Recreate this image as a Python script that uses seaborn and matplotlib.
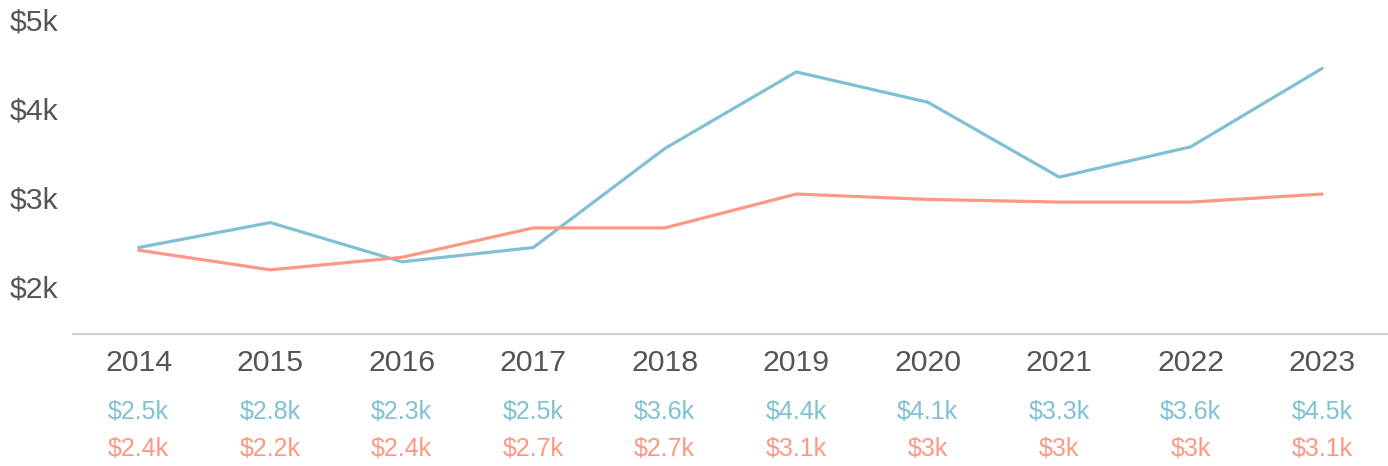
import matplotlib
matplotlib.use("Agg")
import matplotlib.pyplot as plt
import seaborn as sns
import pandas as pd

years = [2014, 2015, 2016, 2017, 2018, 2019, 2020, 2021, 2022, 2023]
series_a = [2.47, 2.75, 2.31, 2.47, 3.58, 4.44, 4.10, 3.26, 3.60, 4.48]
series_b = [2.44, 2.22, 2.36, 2.69, 2.69, 3.07, 3.01, 2.98, 2.98, 3.07]
labels_a = ["$2.5k", "$2.8k", "$2.3k", "$2.5k", "$3.6k", "$4.4k", "$4.1k", "$3.3k", "$3.6k", "$4.5k"]
labels_b = ["$2.4k", "$2.2k", "$2.4k", "$2.7k", "$2.7k", "$3.1k", "$3k", "$3k", "$3k", "$3.1k"]
y_ticks = [2, 3, 4, 5]
y_tick_labels = ["$2k", "$3k", "$4k", "$5k"]

color_a = "#7fc1d3"
color_b = "#ff9882"
text_gray = "#555555"

df = pd.DataFrame({
    "year": years * 2,
    "value": series_a + series_b,
    "series": ["A"] * len(years) + ["B"] * len(years),
})

sns.set_theme(style="white")
plt.rcParams["font.family"] = ["Liberation Sans", "DejaVu Sans"]

fig = plt.figure(figsize=(13.88, 4.66), dpi=100)
W, H = 1388, 466
ax = fig.add_axes([73 / W, (H - 334) / H, (1388 - 73) / W, 312 / H])

sns.lineplot(data=df, x="year", y="value", hue="series",
             palette={"A": color_a, "B": color_b}, linewidth=2.3,
             legend=False, ax=ax)

ax.set_xlim(2013.5, 2023.5)
ax.set_ylim(1.5, 5.0)
ax.set_xlabel("")
ax.set_ylabel("")

for s in ["top", "right", "left"]:
    ax.spines[s].set_visible(False)
ax.spines["bottom"].set_color("#d3d3d3")
ax.spines["bottom"].set_linewidth(1.5)

ax.set_xticks(years)
ax.set_xticklabels([str(y) for y in years], fontsize=21.8, color=text_gray)
ax.tick_params(axis="x", length=0, pad=11)

ax.set_yticks(y_ticks)
ax.set_yticklabels([])
ax.tick_params(axis="y", length=0)
ytrans = matplotlib.transforms.blended_transform_factory(fig.transFigure, ax.transData)
for v, lab in zip(y_ticks, y_tick_labels):
    ax.text(10 / W, v, lab, transform=ytrans, ha="left", va="center",
            fontsize=21.8, color=text_gray, clip_on=False)

for x, la, lb in zip(years, labels_a, labels_b):
    ax.annotate(la, xy=(x, 0), xycoords=("data", "axes fraction"),
                xytext=(0, -56.5), textcoords="offset points",
                ha="center", va="center", fontsize=18, color=color_a,
                annotation_clip=False)
    ax.annotate(lb, xy=(x, 0), xycoords=("data", "axes fraction"),
                xytext=(0, -82.5), textcoords="offset points",
                ha="center", va="center", fontsize=18, color=color_b,
                annotation_clip=False)

fig.savefig("out.png", dpi=100)
